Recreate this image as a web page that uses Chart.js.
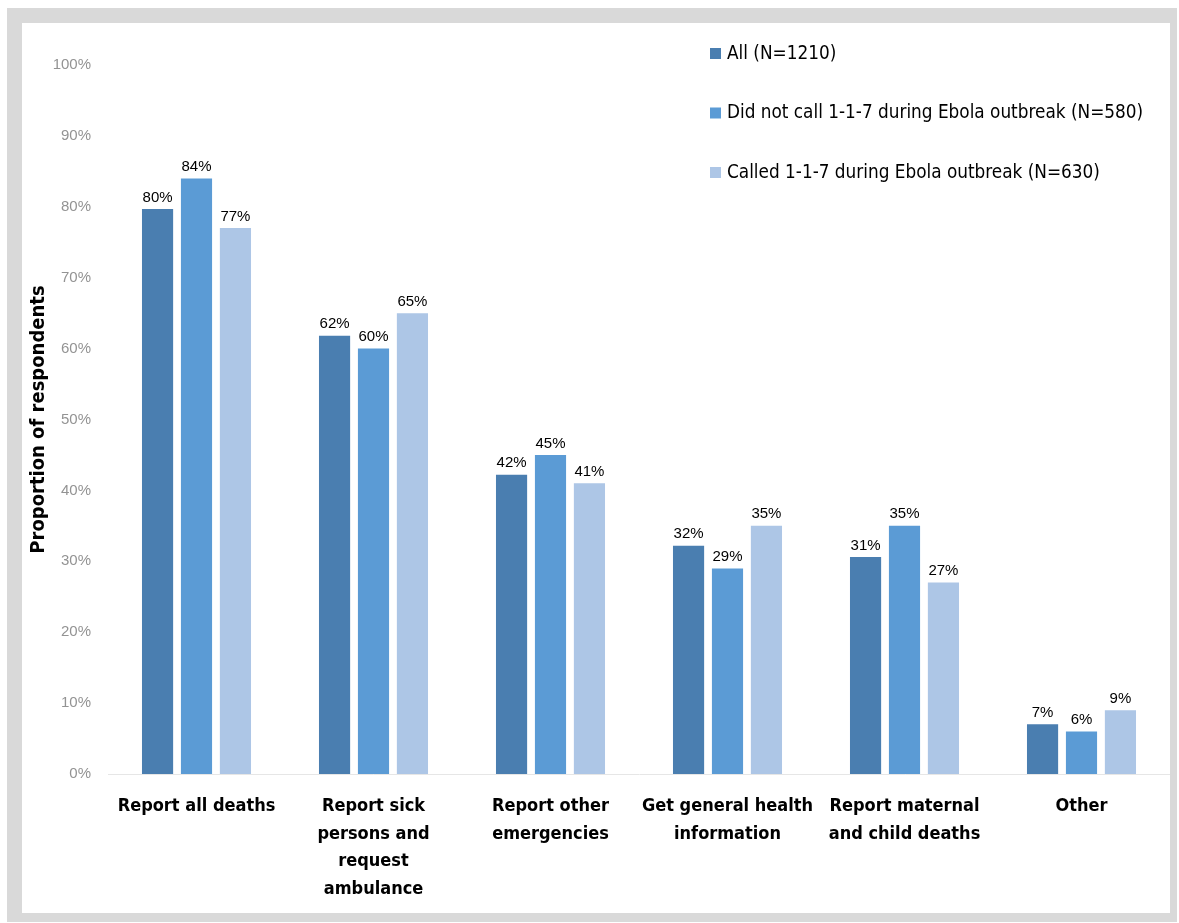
<!DOCTYPE html>
<html><head><meta charset="utf-8">
<script src="https://cdn.jsdelivr.net/npm/chart.js@4"></script>
<style>
html,body{margin:0;padding:0;background:#fff;}
#frame{position:absolute;left:7px;top:8px;width:1170px;height:914px;background:#d9d9d9;}
#inner{position:absolute;left:22px;top:23px;width:1148px;height:890px;background:#fff;}
canvas{display:block;}
</style></head>
<body>
<div id="frame"></div>
<div id="inner"><canvas id="c" width="1148" height="890"></canvas></div>
<script>
const categories = [
  ["Report all deaths"],
  ["Report sick", "persons and", "request", "ambulance"],
  ["Report other", "emergencies"],
  ["Get general health", "information"],
  ["Report maternal", "and child deaths"],
  ["Other"]
];
const seriesNames = [
  "All (N=1210)",
  "Did not call 1-1-7 during Ebola outbreak (N=580)",
  "Called 1-1-7 during Ebola outbreak (N=630)"
];
const allValues = [79.7, 61.8, 42.2, 32.2, 30.6, 7.0];
const notCalledValues = [84, 60, 45, 29, 35, 6];
const calledValues = [77, 65, 41, 35, 27, 9];
const yTicks = [0,10,20,30,40,50,60,70,80,90,100];
const colors = ["#4a7eb0", "#5b9bd5", "#adc6e6"];

const NARROW = "'Liberation Sans Narrow','Arial Narrow','DejaVu Sans Condensed',sans-serif";
const SANS = "'Liberation Sans',Arial,sans-serif";

const dataLabels = {
  id: 'dataLabels',
  afterDatasetsDraw(chart) {
    const ctx = chart.ctx;
    ctx.save();
    ctx.font = "15px " + SANS;
    ctx.fillStyle = "#000";
    ctx.textAlign = "center";
    ctx.textBaseline = "bottom";
    chart.data.datasets.forEach((ds, i) => {
      chart.getDatasetMeta(i).data.forEach((bar, j) => {
        ctx.fillText(Math.round(ds.data[j]) + "%", bar.x, bar.y - 4);
      });
    });
    ctx.restore();
  }
};

const customLegend = {
  id: 'customLegend',
  afterDraw(chart) {
    const ctx = chart.ctx;
    ctx.save();
    ctx.font = "18.8px " + NARROW;
    ctx.textBaseline = "middle";
    const x = 688, y0 = 30, gap = 59.5;
    chart.data.datasets.forEach((ds, i) => {
      const y = y0 + i * gap;
      ctx.fillStyle = ds.backgroundColor;
      ctx.fillRect(x, y - 5, 11, 11);
      ctx.fillStyle = "#000";
      ctx.fillText(ds.label, x + 17, y + 1);
    });
    ctx.restore();
  }
};

new Chart(document.getElementById('c'), {
  type: 'bar',
  data: {
    labels: categories,
    datasets: [
      {label: seriesNames[0], data: allValues, backgroundColor: colors[0]},
      {label: seriesNames[1], data: notCalledValues, backgroundColor: colors[1]},
      {label: seriesNames[2], data: calledValues, backgroundColor: colors[2]}
    ]
  },
  options: {
    responsive: false,
    animation: false,
    layout: {padding: {left: 0, right: 0, top: 42, bottom: 0}},
    datasets: {bar: {categoryPercentage: 0.66, barPercentage: 0.8}},
    plugins: {legend: {display: false}, tooltip: {enabled: false}},
    scales: {
      x: {
        grid: {display: false},
        border: {display: true, color: '#e6e6e6', width: 1},
        ticks: {
          color: '#000',
          font: {family: NARROW, size: 18, weight: 'bold', lineHeight: 1.55},
          padding: 10,
          maxRotation: 0, autoSkip: false
        },
        afterFit(s) { s.height = 139; }
      },
      y: {
        min: 0, max: 100,
        afterBuildTicks(s) { s.ticks = yTicks.map(v => ({value: v})); },
        grid: {display: false},
        border: {display: false},
        ticks: {
          color: '#939393',
          font: {family: SANS, size: 15},
          padding: 9,
          callback: v => v + '%'
        },
        title: {
          display: true,
          text: 'Proportion of respondents',
          color: '#000',
          font: {family: NARROW, size: 20, weight: 'bold'},
          padding: {top: 5, bottom: 0}
        },
        afterFit(s) { s.width = 86; }
      }
    }
  },
  plugins: [dataLabels, customLegend]
});
</script>
</body></html>
